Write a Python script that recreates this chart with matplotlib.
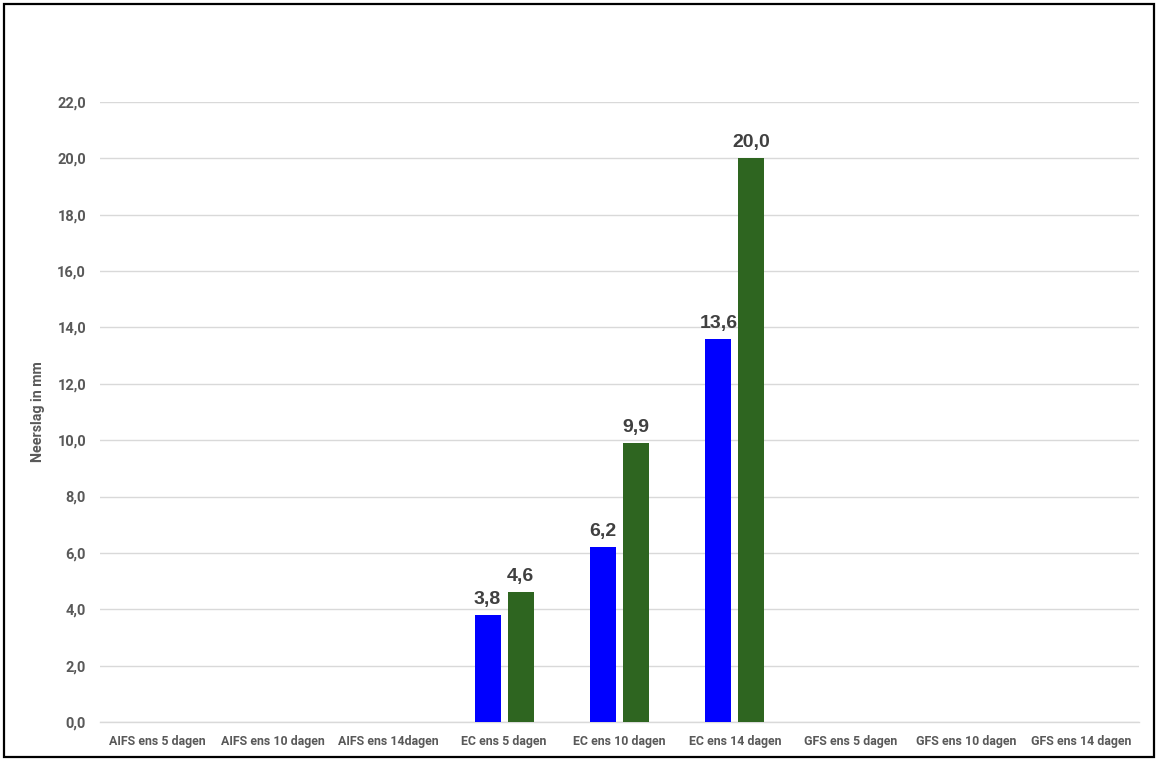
import matplotlib
matplotlib.use("Agg")
import matplotlib.pyplot as plt
import numpy as np
from matplotlib.patches import Rectangle
from matplotlib.font_manager import FontProperties

categories = ["AIFS ens 5 dagen", "AIFS ens 10 dagen", "AIFS ens 14dagen",
              "EC ens 5 dagen", "EC ens 10 dagen", "EC ens 14 dagen",
              "GFS ens 5 dagen", "GFS ens 10 dagen", "GFS ens 14 dagen"]
series_blue = [np.nan, np.nan, np.nan, 3.8, 6.2, 13.6, np.nan, np.nan, np.nan]
series_green = [np.nan, np.nan, np.nan, 4.6, 9.9, 20.0, np.nan, np.nan, np.nan]
yticks = [0, 2, 4, 6, 8, 10, 12, 14, 16, 18, 20, 22]

xtick_fp = FontProperties(family="Roboto", weight="bold", size=8.9)
ytick_fp = FontProperties(family="Roboto", weight="bold", size=10.5)
ylab_fp = FontProperties(family="Roboto", weight="bold", size=10.3)

fig = plt.figure(figsize=(11.58, 7.6), dpi=100)
ax = fig.add_axes([100/1158, 38/760, (1139-100)/1158, (722-102)/760])

x = np.arange(len(categories))
w = 0.226
off = 0.143
ax.bar(x - off, series_blue, w, color="#0000FF", zorder=3)
ax.bar(x + off, series_green, w, color="#2E6520", zorder=3)

for xi, v in zip(x, series_blue):
    if not np.isnan(v):
        ax.text(xi - off, v + 0.25, f"{v:.1f}".replace(".", ","), ha="center", va="bottom",
                fontsize=14, fontweight="bold", color="#404040", family="Liberation Sans", zorder=4)
for xi, v in zip(x, series_green):
    if not np.isnan(v):
        ax.text(xi + off, v + 0.25, f"{v:.1f}".replace(".", ","), ha="center", va="bottom",
                fontsize=14, fontweight="bold", color="#404040", family="Liberation Sans", zorder=4)

ax.set_xlim(-0.5, len(categories) - 0.5)
ax.set_ylim(0, 22)
ax.set_yticks(yticks)
ax.set_yticklabels([f"{t:.1f}".replace(".", ",") for t in yticks])
ax.set_xticks(x)
ax.set_xticklabels(categories)
for lbl in ax.get_xticklabels():
    lbl.set_fontproperties(xtick_fp)
    lbl.set_color("#595959")
for lbl in ax.get_yticklabels():
    lbl.set_fontproperties(ytick_fp)
    lbl.set_color("#595959")
ax.tick_params(axis="both", length=0)
ax.tick_params(axis="y", pad=10)
ax.tick_params(axis="x", pad=9)
ax.grid(axis="y", color="#D9D9D9", linewidth=1, zorder=0)
for s in ["top", "right", "left"]:
    ax.spines[s].set_visible(False)
ax.spines["bottom"].set_color("#D9D9D9")
ax.spines["bottom"].set_linewidth(1)

ax.set_ylabel("Neerslag in mm", fontproperties=ylab_fp, color="#595959")
ax.yaxis.set_label_coords(-55/1039, 0.5)

fig.patches.append(Rectangle((4/1158, 3/760), 1150/1158, 753/760, transform=fig.transFigure,
                             fill=False, edgecolor="black", linewidth=1.6))

fig.savefig("out.png", dpi=100)
